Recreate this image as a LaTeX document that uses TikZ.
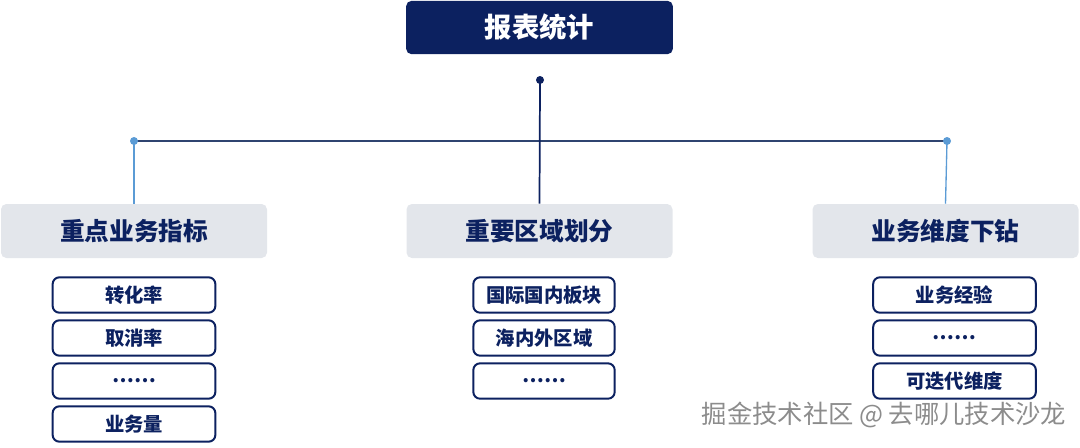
\documentclass[tikz,border=0pt]{standalone}
\usepackage{fontspec}
\setmainfont{Noto Sans CJK SC}
\usetikzlibrary{positioning}
\definecolor{navy}{HTML}{0C2160}
\definecolor{catgray}{HTML}{E3E6EB}
\definecolor{linkblue}{HTML}{5B9BD5}
\definecolor{barline}{HTML}{2F4470}
\definecolor{markgray}{HTML}{8C8C8C}

\begin{document}
\begin{tikzpicture}[x=0.75pt,y=-0.75pt,
  title/.style={fill=navy,rounded corners=4pt,minimum width=200pt,minimum height=40pt,
    text=white,font=\fontsize{20.5}{24}\selectfont\bfseries},
  cat/.style={fill=catgray,rounded corners=4pt,minimum width=199.5pt,minimum height=40.5pt,
    text=navy,font=\fontsize{18.5}{22}\selectfont\bfseries},
  item/.style={draw=navy,line width=1.5pt,rounded corners=5pt,minimum height=26.5pt,
    inner sep=0pt,text=navy,font=\fontsize{14.5}{17}\selectfont\bfseries},
  dot/.style={circle,fill=#1,inner sep=0pt,minimum size=6pt}]
\useasboundingbox (0,0) rectangle (1080,447);

\node[title] (top) at (539.5,27.5) {报表统计};

\node[cat] (kpi) at (134,231) {重点业务指标};
\node[cat] (region) at (539.5,231) {重要区域划分};
\node[cat] (drill) at (945.5,231) {业务维度下钻};

% links
\coordinate (hub) at (540,80);
\coordinate (lend) at (134,141);
\coordinate (rend) at (947,141);
\draw[barline,line width=1.3pt] (lend) -- (rend);
\draw[navy,line width=1.3pt] (hub) -- (region.north);
\draw[linkblue,line width=1pt] (lend) -- (kpi.north);
\draw[linkblue,line width=1pt] (rend) -- (drill.north);
\node[dot=navy] at (hub) {};
\node[dot=linkblue] at (lend) {};
\node[dot=linkblue] at (rend) {};

% left items
\node[item,minimum width=122pt] (k1) at (134,295) {转化率};
\node[item,minimum width=122pt] (k2) at (134,338) {取消率};
\node[item,minimum width=122pt] (k3) at (134,381) {……};
\node[item,minimum width=122pt] (k4) at (134,424) {业务量};

% middle items
\node[item,minimum width=106pt] (r1) at (544,295) {国际国内板块};
\node[item,minimum width=106pt] (r2) at (544,338) {海内外区域};
\node[item,minimum width=106pt] (r3) at (544,381) {……};

% right items
\node[item,minimum width=122pt] (d1) at (954.5,295) {业务经验};
\node[item,minimum width=122pt] (d2) at (954.5,338) {……};
\node[item,minimum width=122pt] (d3) at (954.5,381) {可迭代维度};

\node[text=markgray,font=\fontsize{19}{23}\selectfont,inner sep=0pt] (mark) at (884,415) {掘金技术社区 @ 去哪儿技术沙龙};
\end{tikzpicture}
\end{document}
